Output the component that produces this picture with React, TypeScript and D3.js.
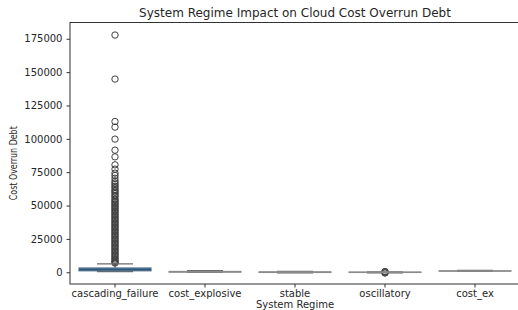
import React, { useRef, useEffect } from "react";
import * as d3 from "d3";

// regimes on the x axis
const categories = ["cascading_failure", "cost_explosive", "stable", "oscillatory", "cost_ex"];

// box statistics: [lower whisker, q1, median, q3, upper whisker]
const boxStats = [
  [500, 1100, 2000, 3200, 6300],
  [0, 150, 350, 600, 1200],
  [-400, -150, 50, 250, 600],
  [-350, -150, 0, 150, 350],
  [700, 850, 950, 1050, 1300],
];

// outliers (fliers) per regime
const cascadingOutliers = [
  177800, 144800, 113000, 108800, 99800, 91500, 86500, 80500, 77300, 74300,
  72500, 70500, 68500, 67000, 65800, 64500, 63500, 62000, 61000, 60000,
  58800, 57500, 56500, 55000, 54000, 53000, 52000, 51000, 50000, 49000,
  48000, 47000, 46000, 45000, 44000, 43000, 42000, 41000, 40000, 39000,
  38000, 37000, 36000, 35000, 34000, 33000, 32000, 31000, 30000, 29000,
  28000, 27000, 26000, 25000, 24000, 23000, 22000, 21000, 20000, 19000,
  18000, 17000, 16000, 15000, 14000, 13000, 12000, 11000, 10000, 9000,
  8200, 7500, 6900,
];
const explosiveOutliers: number[] = [];
const stableOutliers: number[] = [];
const oscillatoryOutliers = [-500, -420, 420, 500];
const costExOutliers: number[] = [];

const yTicks = [0, 25000, 50000, 75000, 100000, 125000, 150000, 175000];

const W = 518;
const H = 310;

const App = () => {
  const ref = useRef<SVGSVGElement>(null);

  useEffect(() => {
    const svg = d3.select(ref.current);
    svg.selectAll("*").remove();

    const left = 70,
      right = 520,
      top = 22.5,
      bottom = 284;

    const x = d3.scaleBand().domain(categories).range([left, right]);
    const y = d3.scaleLinear().domain([-8800, 187200]).range([bottom, top]);

    const outliers = [
      cascadingOutliers,
      explosiveOutliers,
      stableOutliers,
      oscillatoryOutliers,
      costExOutliers,
    ];

    const font = "DejaVu Sans, sans-serif";
    const boxW = x.bandwidth() * 0.8;
    const capW = x.bandwidth() * 0.4;
    const lineColor = "#8a8a8a";
    const capColor = "#6a6a6a";
    const fill = "#3b6d93";

    categories.forEach((c, i) => {
      const cx = x(c)! + x.bandwidth() / 2;
      const [lo, q1, med, q3, hi] = boxStats[i];
      const g = svg.append("g");

      // whiskers
      g.append("line")
        .attr("x1", cx).attr("x2", cx)
        .attr("y1", y(q3)).attr("y2", y(hi))
        .attr("stroke", lineColor).attr("stroke-width", 1.2);
      g.append("line")
        .attr("x1", cx).attr("x2", cx)
        .attr("y1", y(q1)).attr("y2", y(lo))
        .attr("stroke", lineColor).attr("stroke-width", 1.2);

      // fliers
      g.selectAll("circle")
        .data(outliers[i])
        .join("circle")
        .attr("cx", cx)
        .attr("cy", (d) => y(d))
        .attr("r", 3.2)
        .attr("fill", "none")
        .attr("stroke", "#3f3f3f")
        .attr("stroke-width", 1);

      // caps
      [lo, hi].forEach((v) => {
        g.append("line")
          .attr("x1", cx - capW / 2).attr("x2", cx + capW / 2)
          .attr("y1", y(v)).attr("y2", y(v))
          .attr("stroke", capColor).attr("stroke-width", 1.3);
      });

      // box
      const bh = Math.max(y(q1) - y(q3), 0.01);
      g.append("rect")
        .attr("x", cx - boxW / 2)
        .attr("y", y(q3))
        .attr("width", boxW)
        .attr("height", bh)
        .attr("fill", fill)
        .attr("stroke", i === 0 ? "#55708a" : lineColor)
        .attr("stroke-width", 1.2);
      g.append("line")
        .attr("x1", cx - boxW / 2).attr("x2", cx + boxW / 2)
        .attr("y1", y(med)).attr("y2", y(med))
        .attr("stroke", i === 0 ? "#2f5a7a" : lineColor).attr("stroke-width", 1.2);
    });

    // frame
    svg.append("rect")
      .attr("x", left).attr("y", top)
      .attr("width", right - left).attr("height", bottom - top)
      .attr("fill", "none").attr("stroke", "#333").attr("stroke-width", 1);

    const yAxis = svg
      .append("g")
      .attr("transform", `translate(${left},0)`)
      .call(d3.axisLeft(y).tickValues(yTicks).tickFormat(d3.format("d")).tickSize(3.5).tickPadding(4));
    yAxis.select(".domain").remove();

    const xAxis = svg
      .append("g")
      .attr("transform", `translate(0,${bottom})`)
      .call(d3.axisBottom(x).tickSize(3.5).tickPadding(2));
    xAxis.select(".domain").remove();

    svg.selectAll(".tick text")
      .attr("font-family", font)
      .attr("font-size", 10)
      .attr("fill", "#262626");
    svg.selectAll(".tick line").attr("stroke", "#333");

    svg.append("text")
      .attr("x", (left + right) / 2)
      .attr("y", 17)
      .attr("text-anchor", "middle")
      .attr("font-family", font)
      .attr("font-size", 12)
      .attr("fill", "#262626")
      .text("System Regime Impact on Cloud Cost Overrun Debt");

    svg.append("text")
      .attr("x", (left + right) / 2)
      .attr("y", 308)
      .attr("text-anchor", "middle")
      .attr("font-family", font)
      .attr("font-size", 10)
      .attr("fill", "#262626")
      .text("System Regime");

    svg.append("text")
      .attr("transform", `translate(17,${(top + bottom) / 2 + 10}) rotate(-90)`)
      .attr("text-anchor", "middle")
      .attr("font-family", font)
      .attr("font-size", 10)
      .attr("textLength", 74)
      .attr("lengthAdjust", "spacingAndGlyphs")
      .attr("fill", "#262626")
      .text("Cost Overrun Debt");
  }, []);

  return (
    <svg
      ref={ref}
      width={W}
      height={H}
      style={{ position: "absolute", left: 0, top: 0, background: "#fff" }}
    />
  );
};

export default App;
